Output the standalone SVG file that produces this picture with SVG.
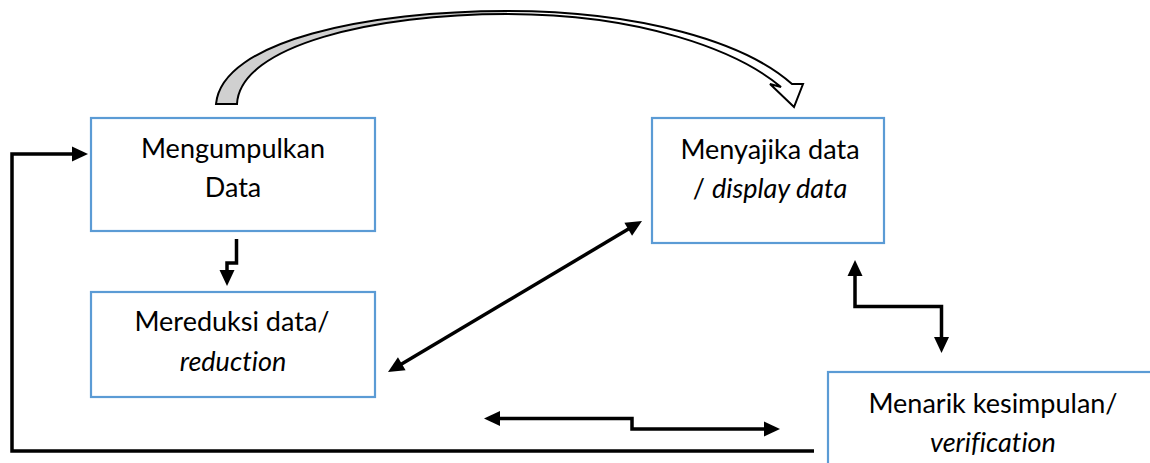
<svg xmlns="http://www.w3.org/2000/svg" width="1150" height="463" viewBox="0 0 1150 463">
<style>
.box{fill:#fff;stroke:#5B9BD5;stroke-width:2.2}
.t{font-family:Lato,"Liberation Sans",sans-serif;font-size:27px;fill:#000;text-anchor:middle;font-variant-ligatures:none;font-feature-settings:"liga" 0,"clig" 0}
.i{font-style:italic}
.c{fill:none;stroke:#000;stroke-width:3.5;stroke-linejoin:miter}
</style>
<defs>
<marker id="ah" markerUnits="userSpaceOnUse" markerWidth="16" markerHeight="15" refX="8" refY="7.5" orient="auto-start-reverse" overflow="visible">
<path d="M0,0 L16,7.5 L0,15 Z" fill="#000"/>
</marker>
</defs>
<rect width="1150" height="463" fill="#fff"/>
<g id="n1">
<rect class="box" x="91" y="118" width="284" height="113"/>
<text class="t" x="233" y="158">Mengumpulkan</text>
<text class="t" x="233" y="197">Data</text>
</g>
<g id="n2">
<rect class="box" x="91" y="292" width="284" height="105"/>
<text class="t" x="232" y="331">Mereduksi data/</text>
<text class="t i" x="233" y="371">reduction</text>
</g>
<g id="n3">
<rect class="box" x="652" y="118" width="232" height="125"/>
<text class="t" x="770" y="159">Menyajika data</text>
<text class="t" x="770" y="198">/ <tspan class="i">display data</tspan></text>
</g>
<g id="n4">
<rect class="box" x="828" y="372" width="340" height="110"/>
<text class="t" x="993" y="413">Menarik kesimpulan/</text>
<text class="t i" x="993" y="452">verification</text>
</g>
<g id="connectors">
<path d="M216,104 C222,40 370,11 507,11 L507,14 C375,14 240,45 237,104 Z" fill="#d0d0d0" stroke="none"/>
<path d="M507,11 C640,11 745,42 792,84 L803,84 L794,107 L770,84 L781,87 C737,50 640,14 507,14 Z" fill="#fff" stroke="none"/>
<path d="M216,104 C222,40 370,11 507,11 C640,11 745,42 792,84 L803,84 L794,107 L770,84 L781,87 C737,50 640,14 507,14 C375,14 240,45 237,104 Z" fill="none" stroke="#000" stroke-width="2" stroke-linejoin="miter"/>
<path class="c" d="M814,451 L12,451 L12,154 L80,154" stroke-width="4" marker-end="url(#ah)"/>
<path class="c" d="M236.5,239 V263 H227 V278" stroke-width="3" marker-end="url(#ah)"/>
<path class="c" d="M394.9,367.9 L635.1,225.1" marker-start="url(#ah)" marker-end="url(#ah)"/>
<path class="c" d="M492,418.5 H632 V429 H772" marker-start="url(#ah)" marker-end="url(#ah)"/>
<path class="c" d="M855,268 V306.5 H941.5 V345" marker-start="url(#ah)" marker-end="url(#ah)"/>
</g>
</svg>
